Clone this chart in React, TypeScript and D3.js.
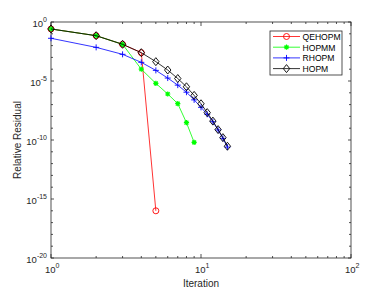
import React from 'react';
import * as d3 from 'd3';

// iterations and log10 residuals
const qehopmX = [1, 2, 3, 4, 5];
const qehopmY = [-0.59, -1.16, -1.89, -2.6, -16.0];
const hopmmX = [1, 2, 3, 4, 5, 6, 7, 8, 9];
const hopmmY = [-0.59, -1.16, -1.89, -4.0, -5.2, -6.1, -6.92, -8.53, -10.2];
const rhopmX = [1, 2, 3, 4, 5, 6, 7, 8, 9, 10, 11, 12, 13, 14, 15];
const rhopmY = [-1.38, -2.15, -2.74, -3.42, -4.1, -4.75, -5.35, -5.95, -6.6, -7.23, -7.82, -8.45, -9.15, -9.86, -10.6];
const hopmX = [1, 2, 3, 4, 5, 6, 7, 8, 9, 10, 11, 12, 13, 14, 15];
const hopmY = [-0.59, -1.16, -1.89, -2.6, -3.36, -4.07, -4.79, -5.49, -6.22, -6.93, -7.68, -8.4, -9.12, -9.8, -10.53];

const xMajor = [0, 1, 2];
const yMajor = [0, -5, -10, -15, -20];

const W = 388;
const H = 291;
const M = { left: 51, right: 37, top: 22, bottom: 33 };
const FONT = 'Liberation Sans, Arial, sans-serif';
const AX = '#262626';

type Series = { name: string; xs: number[]; ys: number[]; color: string; marker: string };

const series: Series[] = [
  { name: 'QEHOPM', xs: qehopmX, ys: qehopmY, color: '#ff0000', marker: 'o' },
  { name: 'HOPMM', xs: hopmmX, ys: hopmmY, color: '#00ff00', marker: '*' },
  { name: 'RHOPM', xs: rhopmX, ys: rhopmY, color: '#0000ff', marker: '+' },
  { name: 'HOPM', xs: hopmX, ys: hopmY, color: '#000000', marker: 'd' },
];

const Marker = ({ type, x, y, color }: { type: string; x: number; y: number; color: string }) => {
  if (type === 'o') return <circle cx={x} cy={y} r={3} fill="none" stroke={color} strokeWidth={0.9} />;
  if (type === 'd')
    return (
      <path d={`M${x},${y - 4}L${x + 3.2},${y}L${x},${y + 4}L${x - 3.2},${y}Z`} fill="none" stroke={color} strokeWidth={0.9} />
    );
  if (type === '+')
    return <path d={`M${x - 3},${y}H${x + 3}M${x},${y - 3}V${y + 3}`} stroke={color} strokeWidth={0.9} />;
  const s = 2.6, t = 1.9;
  return (
    <path
      d={`M${x - s},${y}H${x + s}M${x},${y - s}V${y + s}M${x - t},${y - t}L${x + t},${y + t}M${x - t},${y + t}L${x + t},${y - t}`}
      stroke={color}
      strokeWidth={1.2}
    />
  );
};

export default function App() {
  const x = d3.scaleLog().domain([1, 100]).range([M.left, W - M.right]);
  const y = d3.scaleLinear().domain([-20, 0]).range([H - M.bottom, M.top]);
  const x0 = M.left, x1 = W - M.right, y0 = H - M.bottom, y1 = M.top;

  const line = d3
    .line<[number, number]>()
    .x((d) => x(d[0]))
    .y((d) => y(d[1]));

  const xMinor: number[] = [];
  for (let e = 0; e < 2; e++) for (let k = 2; k <= 9; k++) xMinor.push(k * Math.pow(10, e));
  const yMinor = d3.range(-20, 1).filter((v) => v % 5 !== 0);

  const tl = 3;

  return (
    <svg width={W} height={H} style={{ position: 'absolute', left: 0, top: 0, background: '#fff' }} fontFamily={FONT}>
      <rect x={0} y={0} width={W} height={H} fill="#fff" />
      <g stroke={AX} strokeWidth={0.8}>
        {xMajor.map((e) => {
          const px = x(Math.pow(10, e));
          return (
            <g key={'xm' + e}>
              <line x1={px} x2={px} y1={y0} y2={y0 - 4} />
              <line x1={px} x2={px} y1={y1} y2={y1 + 4} />
            </g>
          );
        })}
        {xMinor.map((v) => (
          <g key={'xn' + v}>
            <line x1={x(v)} x2={x(v)} y1={y0} y2={y0 - 2} />
            <line x1={x(v)} x2={x(v)} y1={y1} y2={y1 + 2} />
          </g>
        ))}
        {yMajor.map((v) => (
          <g key={'ym' + v}>
            <line x1={x0} x2={x0 + tl} y1={y(v)} y2={y(v)} />
            <line x1={x1} x2={x1 - tl} y1={y(v)} y2={y(v)} />
          </g>
        ))}
        {yMinor.map((v) => (
          <g key={'yn' + v}>
            <line x1={x0} x2={x0 + 2} y1={y(v)} y2={y(v)} />
            <line x1={x1} x2={x1 - 2} y1={y(v)} y2={y(v)} />
          </g>
        ))}
        <rect x={x0} y={y1} width={x1 - x0} height={y0 - y1} fill="none" />
      </g>

      {series.map((s) => {
        const pts = s.xs.map((v, i) => [v, s.ys[i]] as [number, number]);
        return (
          <g key={s.name}>
            <path d={line(pts) || ''} fill="none" stroke={s.color} strokeWidth={0.8} />
            {pts.map((p, i) => (
              <Marker key={i} type={s.marker} x={x(p[0])} y={y(p[1])} color={s.color} />
            ))}
          </g>
        );
      })}

      <g fill={AX} fontSize={9.5}>
        {yMajor.map((v) => (
          <text key={'yl' + v} x={x0 - 4} y={y(v) + 5} textAnchor="end">
            10
            <tspan dy={-5} fontSize={7}>{v}</tspan>
          </text>
        ))}
        {xMajor.map((e) => (
          <text key={'xl' + e} x={x(Math.pow(10, e)) - 6} y={y0 + 15} textAnchor="start">
            10
            <tspan dy={-5} fontSize={7}>{e}</tspan>
          </text>
        ))}
      </g>
      <text x={(x0 + x1) / 2} y={287} textAnchor="middle" fontSize={10} fill={AX}>
        Iteration
      </text>
      <text transform={`translate(21,${(y0 + y1) / 2}) rotate(-90)`} textAnchor="middle" fontSize={10} fill={AX}>
        Relative Residual
      </text>

      <g>
        <rect x={270} y={31} width={72} height={44} fill="#fff" stroke={AX} strokeWidth={0.8} />
        {series.map((s, i) => {
          const ry = 36.5 + i * 10.7;
          return (
            <g key={'lg' + s.name}>
              <line x1={273} x2={300} y1={ry} y2={ry} stroke={s.color} strokeWidth={0.8} />
              <Marker type={s.marker} x={286.5} y={ry} color={s.color} />
              <text x={302.5} y={ry + 3.3} fontSize={8.6} fill="#000">
                {s.name}
              </text>
            </g>
          );
        })}
      </g>
    </svg>
  );
}
